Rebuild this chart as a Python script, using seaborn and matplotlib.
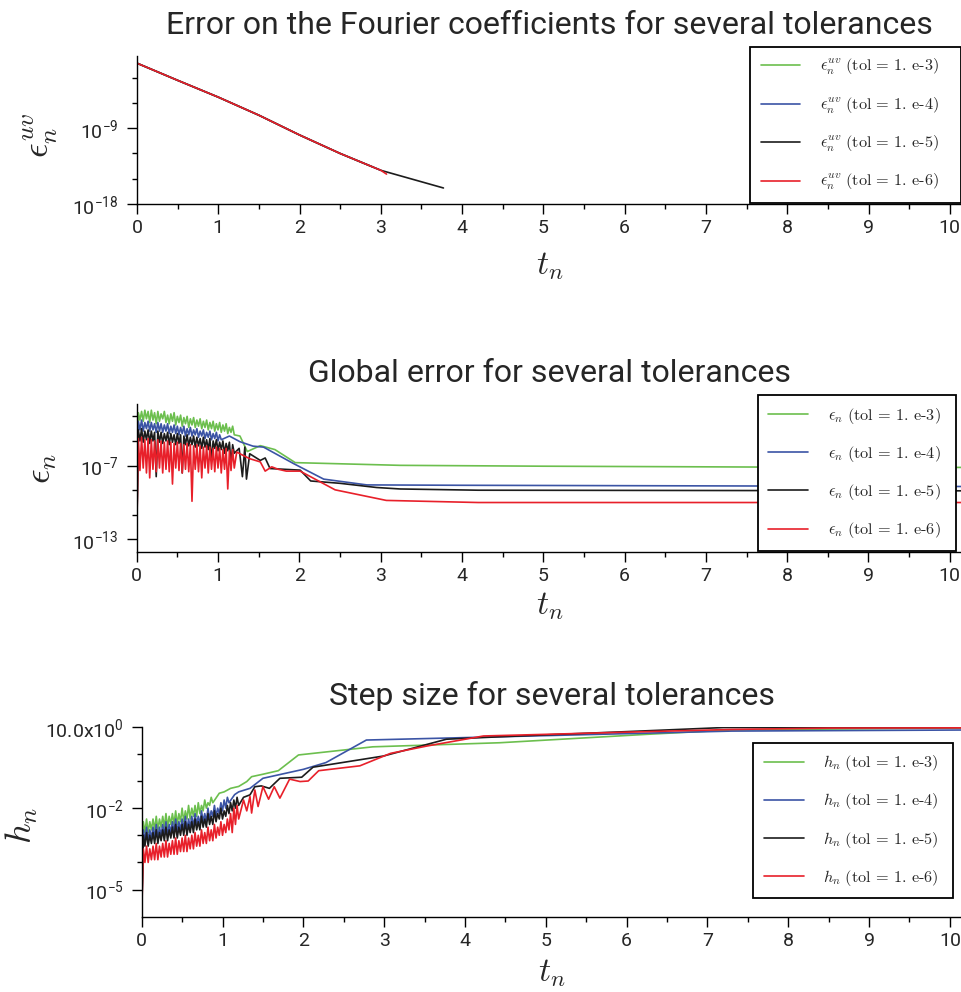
import numpy as np
import pandas as pd
import matplotlib
matplotlib.use('Agg')
import matplotlib.pyplot as plt
import seaborn as sns
from matplotlib.ticker import FixedLocator, FuncFormatter, NullFormatter, MultipleLocator

# ---------------- data ----------------
tolerances = ['3', '4', '5', '6']          # tol = 1.e-3 ... 1.e-6
colors = ['#6cbf4e', '#3b54a5', '#1c1c1c', '#e8202a']

t_fine = [0.00, 0.02, 0.04, 0.06, 0.08, 0.10, 0.12, 0.14, 0.16, 0.18,
          0.20, 0.22, 0.24, 0.26, 0.28, 0.30, 0.32, 0.34, 0.36, 0.38,
          0.40, 0.42, 0.44, 0.46, 0.48, 0.50, 0.52, 0.54, 0.56, 0.58,
          0.60, 0.62, 0.64, 0.66, 0.68, 0.70, 0.72, 0.74, 0.76, 0.78,
          0.80, 0.82, 0.84, 0.86, 0.88, 0.90, 0.92, 0.94, 0.96, 0.98,
          1.00, 1.02, 1.04, 1.06, 1.08, 1.10, 1.12, 1.14, 1.16, 1.18, 1.20]


def flat(pairs):
    return [v for pr in pairs for v in pr]


# --- panel 1: error on Fourier coefficients (log10 values)
top_t_green = [0.0, 0.5, 1.0, 1.5, 2.0, 2.5, 2.9]
top_log_green = [-1.26, -3.3, -5.3, -7.45, -9.8, -12.0, -13.6]
top_t_blue = [0.0, 0.5, 1.0, 1.5, 2.0, 2.5, 3.0]
top_log_blue = [-1.26, -3.3, -5.3, -7.45, -9.8, -12.0, -14.0]
top_t_black = [0.0, 0.5, 1.0, 1.5, 2.0, 2.5, 3.0, 3.77]
top_log_black = [-1.26, -3.3, -5.3, -7.45, -9.8, -12.0, -14.0, -16.1]
top_t_red = [0.0, 0.5, 1.0, 1.5, 2.0, 2.5, 3.0, 3.07]
top_log_red = [-1.26, -3.3, -5.3, -7.45, -9.8, -12.0, -14.0, -14.45]

# --- panel 2: global error (log10 values), oscillating part as (high, low) pairs
mid_green_noise = [(-2.7, -3.3), (-2.6, -3.4), (-2.5, -3.2), (-2.6, -3.5), (-2.5, -3.3),
                   (-2.7, -3.6), (-2.6, -3.4), (-2.8, -3.2), (-2.6, -3.5), (-2.9, -3.6),
                   (-2.8, -3.4), (-2.7, -3.7), (-3.0, -3.5), (-2.9, -3.8), (-3.1, -3.6),
                   (-3.0, -3.9), (-3.2, -3.7), (-3.1, -3.9), (-3.3, -3.8), (-3.2, -4.0),
                   (-3.4, -3.9), (-3.3, -4.1), (-3.5, -4.0), (-3.4, -4.2), (-3.6, -4.1),
                   (-3.5, -4.3), (-3.7, -4.2), (-3.6, -4.4), (-3.9, -4.3), (-3.8, -4.5)]
mid_t_green = t_fine + [1.27, 1.36, 1.52, 1.70, 1.95, 3.24, 5.0, 7.7, 10.2]
mid_log_green = [-12.9] + flat(mid_green_noise) + \
    [-4.6, -5.86, -5.38, -5.7, -6.76, -6.98, -7.05, -7.12, -7.15]

mid_blue_noise = [(-3.4, -4.1), (-3.3, -4.2), (-3.5, -4.0), (-3.4, -4.2), (-3.5, -4.1),
                  (-3.6, -4.3), (-3.5, -4.2), (-3.6, -4.3), (-3.7, -4.2), (-3.6, -4.4),
                  (-3.8, -4.3), (-3.7, -4.4), (-3.8, -4.5), (-3.9, -4.4), (-3.8, -4.6),
                  (-4.0, -4.5), (-3.9, -4.6), (-4.1, -4.5), (-4.0, -4.7), (-4.2, -4.6),
                  (-4.1, -4.8), (-4.3, -4.7), (-4.2, -4.9), (-4.4, -4.8), (-4.3, -5.0),
                  (-4.5, -4.9)]
mid_t_blue = t_fine[:53] + [1.14, 1.27, 1.43, 1.56, 1.93, 2.30, 2.83, 4.0, 10.2]
mid_log_blue = [-12.9] + flat(mid_blue_noise) + \
    [-4.6, -5.06, -5.42, -5.5, -6.84, -8.1, -8.57, -8.6, -8.7]

mid_black_noise = [(-4.1, -5.0), (-4.0, -5.1), (-4.2, -4.9), (-4.1, -5.2), (-4.2, -5.0),
                   (-4.3, -7.9), (-4.2, -5.1), (-4.3, -5.2), (-4.4, -5.0), (-4.3, -5.3),
                   (-4.4, -5.1), (-4.5, -5.3), (-4.4, -5.2), (-4.5, -7.6), (-4.6, -5.3),
                   (-4.5, -5.4), (-4.7, -5.3), (-4.6, -5.5), (-4.7, -5.4), (-4.8, -5.6),
                   (-4.7, -5.5), (-4.9, -5.7), (-4.8, -6.6), (-5.0, -5.6), (-4.9, -5.8),
                   (-5.1, -5.7), (-5.0, -6.0), (-5.2, -5.8), (-5.1, -6.9), (-5.3, -6.0)]
mid_t_black = t_fine + [1.26, 1.30, 1.33, 1.35, 1.39, 1.52, 1.58, 1.64, 2.01,
                        2.14, 2.5, 2.95, 3.24, 4.2, 10.2]
mid_log_black = [-12.9] + flat(mid_black_noise) + \
    [-5.6, -7.9, -5.5, -8.1, -6.04, -6.58, -6.38, -7.24, -7.37,
     -8.25, -8.44, -8.78, -8.9, -9.0, -9.05]

mid_red_noise = [(-4.8, -7.4), (-4.7, -7.2), (-4.9, -7.6), (-4.8, -8.0), (-4.9, -7.3),
                 (-5.0, -7.5), (-4.9, -7.2), (-5.0, -7.6), (-5.1, -7.3), (-5.0, -7.5),
                 (-5.1, -8.5), (-5.2, -7.2), (-5.1, -7.4), (-5.2, -7.6), (-5.3, -7.3),
                 (-5.2, -7.5), (-5.3, -9.9), (-5.4, -7.3), (-5.3, -7.5), (-5.4, -8.0),
                 (-5.5, -7.2), (-5.4, -7.6), (-5.5, -7.3), (-5.6, -7.5), (-5.5, -7.2),
                 (-5.6, -7.6), (-5.7, -7.3), (-5.6, -8.9), (-5.8, -7.4), (-5.7, -7.2)]
mid_t_red = t_fine + [1.23, 1.27, 1.39, 1.52, 1.58, 1.66, 1.74, 1.84, 2.01,
                      2.44, 3.07, 4.2, 10.2]
mid_log_red = [-12.9] + flat(mid_red_noise) + \
    [-5.9, -6.04, -6.44, -6.7, -7.45, -7.1, -7.3, -7.45, -7.45,
     -8.97, -9.83, -10.0, -10.0]

# --- panel 3: step size (log10 values), oscillating part as (high, low) pairs
bot_green_noise = [(-2.5, -2.9), (-2.4, -2.9), (-2.5, -2.8), (-2.4, -2.8), (-2.3, -2.8),
                   (-2.4, -2.7), (-2.3, -2.7), (-2.2, -2.7), (-2.3, -2.6), (-2.2, -2.6),
                   (-2.1, -2.6), (-2.2, -2.5), (-2.0, -2.5), (-2.1, -2.4), (-1.9, -2.4),
                   (-2.0, -2.3), (-1.9, -2.3), (-1.8, -2.2), (-1.9, -2.1), (-1.7, -2.0),
                   (-1.8, -1.9), (-1.6, -1.8)]
bot_t_green = t_fine[:45] + [0.96, 1.02, 1.10, 1.20, 1.30, 1.36, 1.50, 1.69,
                             1.94, 2.86, 4.43, 6.25, 7.28, 10.2]
bot_log_green = [-6.0] + flat(bot_green_noise) + \
    [-1.45, -1.4, -1.27, -1.2, -1.02, -0.84, -0.75, -0.62, -0.04,
     0.26, 0.41, 0.72, 0.88, 0.96]

bot_blue_noise = [(-2.8, -3.2), (-2.7, -3.2), (-2.8, -3.1), (-2.7, -3.1), (-2.6, -3.1),
                  (-2.7, -3.0), (-2.6, -3.0), (-2.5, -3.0), (-2.6, -2.9), (-2.5, -2.9),
                  (-2.4, -2.9), (-2.5, -2.8), (-2.4, -2.8), (-2.3, -2.8), (-2.4, -2.7),
                  (-2.3, -2.7), (-2.2, -2.6), (-2.3, -2.6), (-2.1, -2.5), (-2.2, -2.5),
                  (-2.0, -2.4), (-2.1, -2.3), (-1.9, -2.3), (-2.0, -2.2), (-1.8, -2.1),
                  (-1.7, -2.0), (-1.6, -1.8)]
bot_t_blue = t_fine[:55] + [1.15, 1.20, 1.34, 1.50, 2.00, 2.28, 2.78, 4.14,
                            7.30, 10.2]
bot_log_blue = [-6.0] + flat(bot_blue_noise) + \
    [-1.5, -1.4, -1.27, -0.9, -0.57, -0.32, 0.51, 0.61, 0.84, 0.88]

bot_black_noise = [(-3.0, -3.4), (-2.9, -3.4), (-3.0, -3.3), (-2.9, -3.3), (-2.8, -3.3),
                   (-2.9, -3.2), (-2.8, -3.2), (-2.7, -3.2), (-2.8, -3.1), (-2.7, -3.1),
                   (-2.6, -3.1), (-2.7, -3.0), (-2.6, -3.0), (-2.5, -3.0), (-2.6, -2.9),
                   (-2.5, -2.9), (-2.4, -2.8), (-2.5, -2.8), (-2.3, -2.7), (-2.4, -2.7),
                   (-2.2, -2.6), (-2.3, -2.6), (-2.1, -2.5), (-2.2, -2.4), (-2.0, -2.4),
                   (-2.1, -2.3), (-1.9, -2.2), (-1.8, -2.1), (-1.7, -2.0), (-1.6, -1.9)]
bot_t_black = t_fine + [1.26, 1.34, 1.40, 1.48, 1.58, 1.71, 1.98, 2.12, 2.82,
                        2.99, 3.77, 4.43, 5.0, 6.0, 7.2, 10.2]
bot_log_black = [-6.0] + flat(bot_black_noise) + \
    [-1.6, -1.51, -1.21, -1.18, -1.27, -0.9, -0.86, -0.49, -0.16,
     -0.08, 0.54, 0.63, 0.7, 0.82, 0.97, 0.97]

bot_red_noise = [(-3.5, -4.0), (-3.4, -4.0), (-3.5, -3.9), (-3.4, -3.9), (-3.3, -3.9),
                 (-3.4, -3.8), (-3.3, -3.8), (-3.2, -3.8), (-3.3, -3.7), (-3.2, -3.7),
                 (-3.1, -3.7), (-3.2, -3.6), (-3.1, -3.6), (-3.0, -3.6), (-3.1, -3.5),
                 (-3.0, -3.5), (-2.9, -3.4), (-3.0, -3.4), (-2.8, -3.3), (-2.9, -3.3),
                 (-2.7, -3.2), (-2.8, -3.2), (-2.6, -3.1), (-2.7, -3.0), (-2.5, -3.0),
                 (-2.6, -2.9), (-2.4, -2.8), (-2.2, -2.9), (-2.0, -2.6), (-1.9, -2.4)]
bot_t_red = t_fine + [1.26, 1.30, 1.34, 1.36, 1.40, 1.44, 1.50, 1.57, 1.64,
                      1.71, 1.83, 1.96, 2.06, 2.19, 2.70, 3.08, 3.53, 4.23,
                      5.0, 6.0, 7.3, 8.5, 10.2]
bot_log_red = [-6.0] + flat(bot_red_noise) + \
    [-1.7, -2.1, -1.57, -2.18, -1.33, -1.94, -1.21, -1.67, -1.21,
     -1.63, -0.93, -1.02, -1.0, -0.62, -0.44, 0.02, 0.29, 0.66,
     0.72, 0.8, 0.9, 0.95, 0.96]

titles = ['Error on the Fourier coefficients for several tolerances',
          'Global error for several tolerances',
          'Step size for several tolerances']
ylabels = [r'$\epsilon_n^{uv}$', r'$\epsilon_n$', r'$h_n$']
legend_syms = [r'\epsilon_n^{uv}', r'\epsilon_n', r'h_n']
xticks_major = [0, 1, 2, 3, 4, 5, 6, 7, 8, 9, 10]

top_major_exp = [-18, -9]
top_minor_exp = [-15, -12, -6, -3]
mid_major_exp = [-13, -7]
mid_minor_exp = [-11, -9, -5, -3]
bot_major_exp = [-5, -2, 1]
bot_minor_exp = [-4, -3, -1, 0]
bot_major_labels = [r'$\mathdefault{10^{-5}}$', r'$\mathdefault{10^{-2}}$',
                    r'$\mathdefault{10.0x10^{0}}$']

# ---------------- style ----------------
sns.set_style('ticks')
plt.rcParams['font.family'] = ['Roboto', 'DejaVu Sans']
plt.rcParams['mathtext.fontset'] = 'cm'
plt.rcParams['axes.linewidth'] = 1.0
plt.rcParams['axes.edgecolor'] = 'black'

fig = plt.figure(figsize=(9.62, 9.92), dpi=100)

panels = [
    dict(rect=[0.1424, 0.7944, 0.8576, 0.1492], ylim=(1e-18, 10 ** -0.4),
         series=[(top_t_green, top_log_green), (top_t_blue, top_log_blue),
                 (top_t_black, top_log_black), (top_t_red, top_log_red)],
         major=top_major_exp, minor=top_minor_exp, labels=None,
         leg_box=(0.743, 0.0, 0.2558, 1.063), ylab_xy=(-0.093, 0.466), xlab_y=-0.31),
    dict(rect=[0.1421, 0.4438, 0.8579, 0.1489], ylim=(1e-14, 1e-2),
         series=[(mid_t_green, mid_log_green), (mid_t_blue, mid_log_blue),
                 (mid_t_black, mid_log_black), (mid_t_red, mid_log_red)],
         major=mid_major_exp, minor=mid_minor_exp, labels=None,
         leg_box=(0.7524, 0.0, 0.2399, 1.061), ylab_xy=(-0.094, 0.567), xlab_y=-0.26),
    dict(rect=[0.1473, 0.0759, 0.8527, 0.1915], ylim=(1e-6, 1e1),
         series=[(bot_t_green, bot_log_green), (bot_t_blue, bot_log_blue),
                 (bot_t_black, bot_log_black), (bot_t_red, bot_log_red)],
         major=bot_major_exp, minor=bot_minor_exp, labels=bot_major_labels,
         leg_box=(0.7456, 0.0, 0.2438, 0.916), ylab_xy=(-0.124, 0.483), xlab_y=-0.21),
]

for i, p in enumerate(panels):
    ax = fig.add_axes(p['rect'])
    frames = []
    for (t, lg), tol in zip(p['series'], tolerances):
        lab = r'$%s\ (\mathrm{tol}\,=\,1.\,\mathrm{e}\text{-}%s)$' % (legend_syms[i], tol)
        frames.append(pd.DataFrame({'t': t, 'v': 10.0 ** np.array(lg), 'label': lab}))
    df = pd.concat(frames, ignore_index=True)
    sns.lineplot(data=df, x='t', y='v', hue='label', palette=colors,
                 estimator=None, sort=False, linewidth=1.2, ax=ax)
    ax.set_yscale('log')
    ax.set_xlim(0, 10.15)
    ax.set_ylim(*p['ylim'])
    sns.despine(ax=ax)

    ax.xaxis.set_major_locator(FixedLocator(xticks_major))
    ax.xaxis.set_minor_locator(MultipleLocator(0.5))
    ax.yaxis.set_major_locator(FixedLocator([10.0 ** e for e in p['major']]))
    ax.yaxis.set_minor_locator(FixedLocator([10.0 ** e for e in p['minor']]))
    ax.yaxis.set_minor_formatter(NullFormatter())
    if p['labels'] is not None:
        labs = dict(zip(p['major'], p['labels']))
        ax.yaxis.set_major_formatter(FuncFormatter(
            lambda v, pos, labs=labs: labs.get(int(round(np.log10(v))), '')))
    ax.tick_params(axis='both', which='major', length=7, width=1.0,
                   labelsize=14, direction='out', color='black', pad=4)
    ax.tick_params(axis='both', which='minor', length=3.5, width=1.0,
                   direction='out', color='black')
    ax.tick_params(axis='y', which='major', pad=6)

    ax.set_title(titles[i], fontsize=23, pad=16)
    ax.set_xlabel(r'$t_n$', fontsize=24)
    ax.xaxis.set_label_coords(0.5, p['xlab_y'])
    ax.set_ylabel(ylabels[i], fontsize=26)
    ax.yaxis.set_label_coords(*p['ylab_xy'])

    handles, labels = ax.get_legend_handles_labels()
    leg = ax.legend(handles, labels, loc='upper left',
                    bbox_to_anchor=p['leg_box'], mode='expand', frameon=True,
                    fancybox=False, edgecolor='black', framealpha=1,
                    fontsize=11.7, labelspacing=1.12, handlelength=2.45,
                    handletextpad=1.2, borderpad=0.65, borderaxespad=0)
    leg.get_frame().set_linewidth(1.3)

fig.savefig('out.png', dpi=100)
